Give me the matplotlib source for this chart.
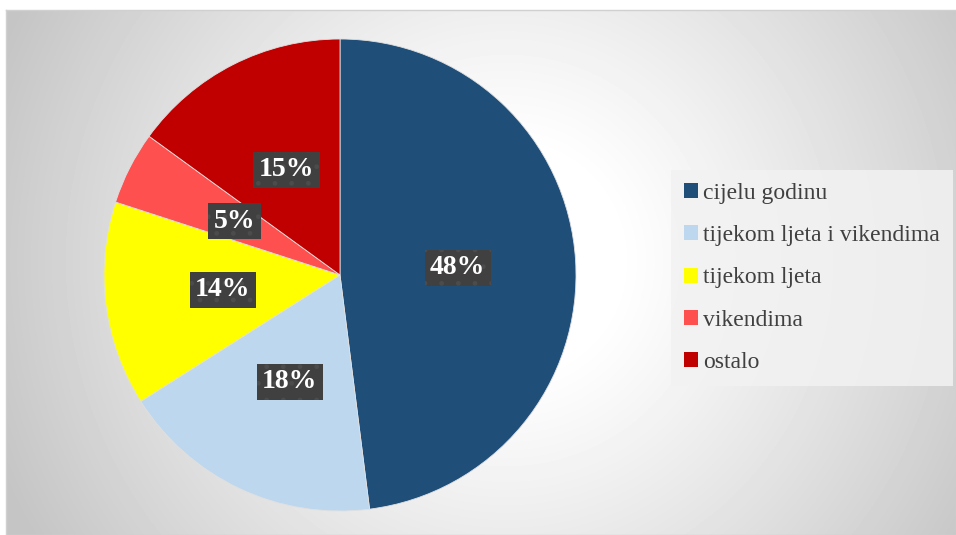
import numpy as np
import matplotlib
matplotlib.use("Agg")
import matplotlib.pyplot as plt
from matplotlib.patches import Patch

# data
categories = ["cijelu godinu", "tijekom ljeta i vikendima", "tijekom ljeta", "vikendima", "ostalo"]
shares = [48, 18, 14, 5, 15]
colors = ["#1F4E79", "#BDD7EE", "#FFFF00", "#FF5050", "#C00000"]

W, H = 956, 535
fig = plt.figure(figsize=(W / 100, H / 100), dpi=100)
fig.patch.set_facecolor("white")

# --- radial gradient background of the chart area ---
bg = fig.add_axes([6 / W, 0, (W - 6) / W, (H - 10) / H])
ny, nx = H - 10, W - 6
yy, xx = np.mgrid[0:ny, 0:nx]
cx, cy = 500, 250
d = np.hypot(xx - cx, yy - cy)
t = np.clip((d - 110) / 440, 0, 1) ** 1.1
grad = 1 - 0.23 * t
bg.imshow(grad, cmap="gray", vmin=0, vmax=1, aspect="auto", interpolation="bilinear")
bg.set_xticks([])
bg.set_yticks([])
for s in bg.spines.values():
    s.set_color("#d0d0d0")
    s.set_linewidth(1)

# --- pie ---
ax = fig.add_axes([104 / W, 24 / H, 472 / W, 472 / H])
wedges, texts, autotexts = ax.pie(
    shares, colors=colors, startangle=90, counterclock=False,
    autopct=lambda p: f"{p:.0f}%", pctdistance=0.5, radius=1,
    wedgeprops=dict(linewidth=0.6, edgecolor="#e0e0e0"),
    textprops=dict(color="white", fontsize=20, fontweight="bold", family="Liberation Serif"),
)
ax.set_xlim(-1, 1)
ax.set_ylim(-1, 1)
ax.set_aspect("equal")

plt.rcParams["hatch.linewidth"] = 1.0
for t_ in autotexts:
    t_.set_bbox(dict(boxstyle="square,pad=0.2", facecolor="#404040", edgecolor="#4c4c4c",
                     linewidth=0, hatch="."))

# --- legend ---
handles = [Patch(facecolor=c, edgecolor="none") for c in colors]
leg = fig.legend(handles, categories, loc="upper left", bbox_to_anchor=(671 / W, 1 - 170 / H),
                 prop=dict(family="Liberation Serif", size=17), labelcolor="#404040",
                 handlelength=0.6, handleheight=0.6, handletextpad=0.2,
                 labelspacing=0.9, borderpad=0.55, borderaxespad=0, fancybox=False,
                 frameon=True)
leg.get_frame().set_facecolor("#f2f2f2")
leg.get_frame().set_alpha(0.85)
leg.get_frame().set_edgecolor("none")

fig.savefig("out.png", dpi=100)
